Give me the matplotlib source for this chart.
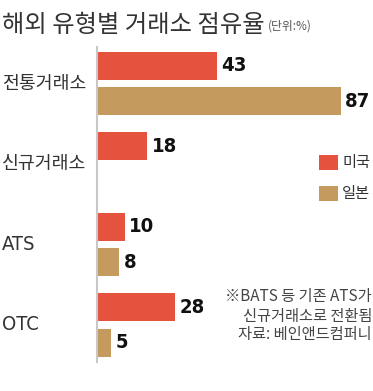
import matplotlib
matplotlib.use("Agg")
import matplotlib.pyplot as plt
import numpy as np

plt.rcParams['font.family'] = ['Noto Sans CJK KR', 'DejaVu Sans']

categories = ['전통거래소', '신규거래소', 'ATS', 'OTC']
us_values = [43, 18, 10, 28]
jp_values = [87, None, 8, 5]
series_names = ['미국', '일본']
title = '해외 유형별 거래소 점유율'
unit = '(단위:%)'
notes = ['※BATS 등 기존 ATS가', '신규거래소로 전환됨', '자료: 베인앤드컴퍼니']

RED = '#E5533F'
TAN = '#C49A5F'

W, H = 373, 391
fig = plt.figure(figsize=(W/100, H/100), dpi=100)

left_px, top_px, bottom_px = 97, 47, 362
ax = fig.add_axes([left_px/W, 1 - bottom_px/H, 1 - left_px/W, (bottom_px - top_px)/H])

spacing = 80.5
ax.set_ylim(3.46, -0.453)
ax.set_xlim(0, (W - left_px)/2.80)

y = np.arange(len(categories))
bh = 28/spacing
off = 17.75/spacing

num_font = dict(family='DejaVu Sans', stretch='condensed', fontweight='bold',
                fontsize=14.5, color='#111111')

for i, v in enumerate(us_values):
    if v is None:
        continue
    ax.barh(y[i] - off, v, height=bh, color=RED, linewidth=0)
    ax.annotate(str(v), (v, y[i] - off), xytext=(3, 0), textcoords='offset points',
                va='center', ha='left', **num_font)
for i, v in enumerate(jp_values):
    if v is None:
        continue
    ax.barh(y[i] + off, v, height=bh, color=TAN, linewidth=0)
    ax.annotate(str(v), (v, y[i] + off), xytext=(3, 0), textcoords='offset points',
                va='center', ha='left', **num_font)

for s in ['top', 'right', 'bottom']:
    ax.spines[s].set_visible(False)
ax.spines['left'].set_color('#C8C8C8')
ax.spines['left'].set_linewidth(1.5)
ax.set_xticks([])
ax.set_yticks([])

for i, c in enumerate(categories):
    if c.isascii():
        fig.text(2/W, 1 - (83.5 + i*spacing)/H, c, ha='left', va='center',
                 fontsize=14.5, color='#333333', family='DejaVu Sans', stretch='condensed')
    else:
        fig.text(2/W, 1 - (83.5 + i*spacing)/H, c, ha='left', va='center',
                 fontsize=13.2, color='#333333')

fig.text(2/W, 1 - 25/H, title, ha='left', va='center', fontsize=17.5, color='#333333')
fig.text(268/W, 1 - 26/H, unit, ha='left', va='center', fontsize=8.5, color='#555555')

for k, (name, col) in enumerate(zip(series_names, [RED, TAN])):
    yc = 162.5 + k*31
    fig.patches.append(plt.Rectangle((319/W, 1 - (yc + 7.5)/H), 19/W, 15/H,
                                     transform=fig.transFigure, color=col, linewidth=0))
    fig.text(342/W, 1 - yc/H, name, ha='left', va='center', fontsize=11, color='#333333')

for k, line in enumerate(notes):
    fig.text(372/W, 1 - (297 + k*19)/H, line, ha='right', va='center', fontsize=11,
             color='#444444')

fig.savefig('out.png', dpi=100)
